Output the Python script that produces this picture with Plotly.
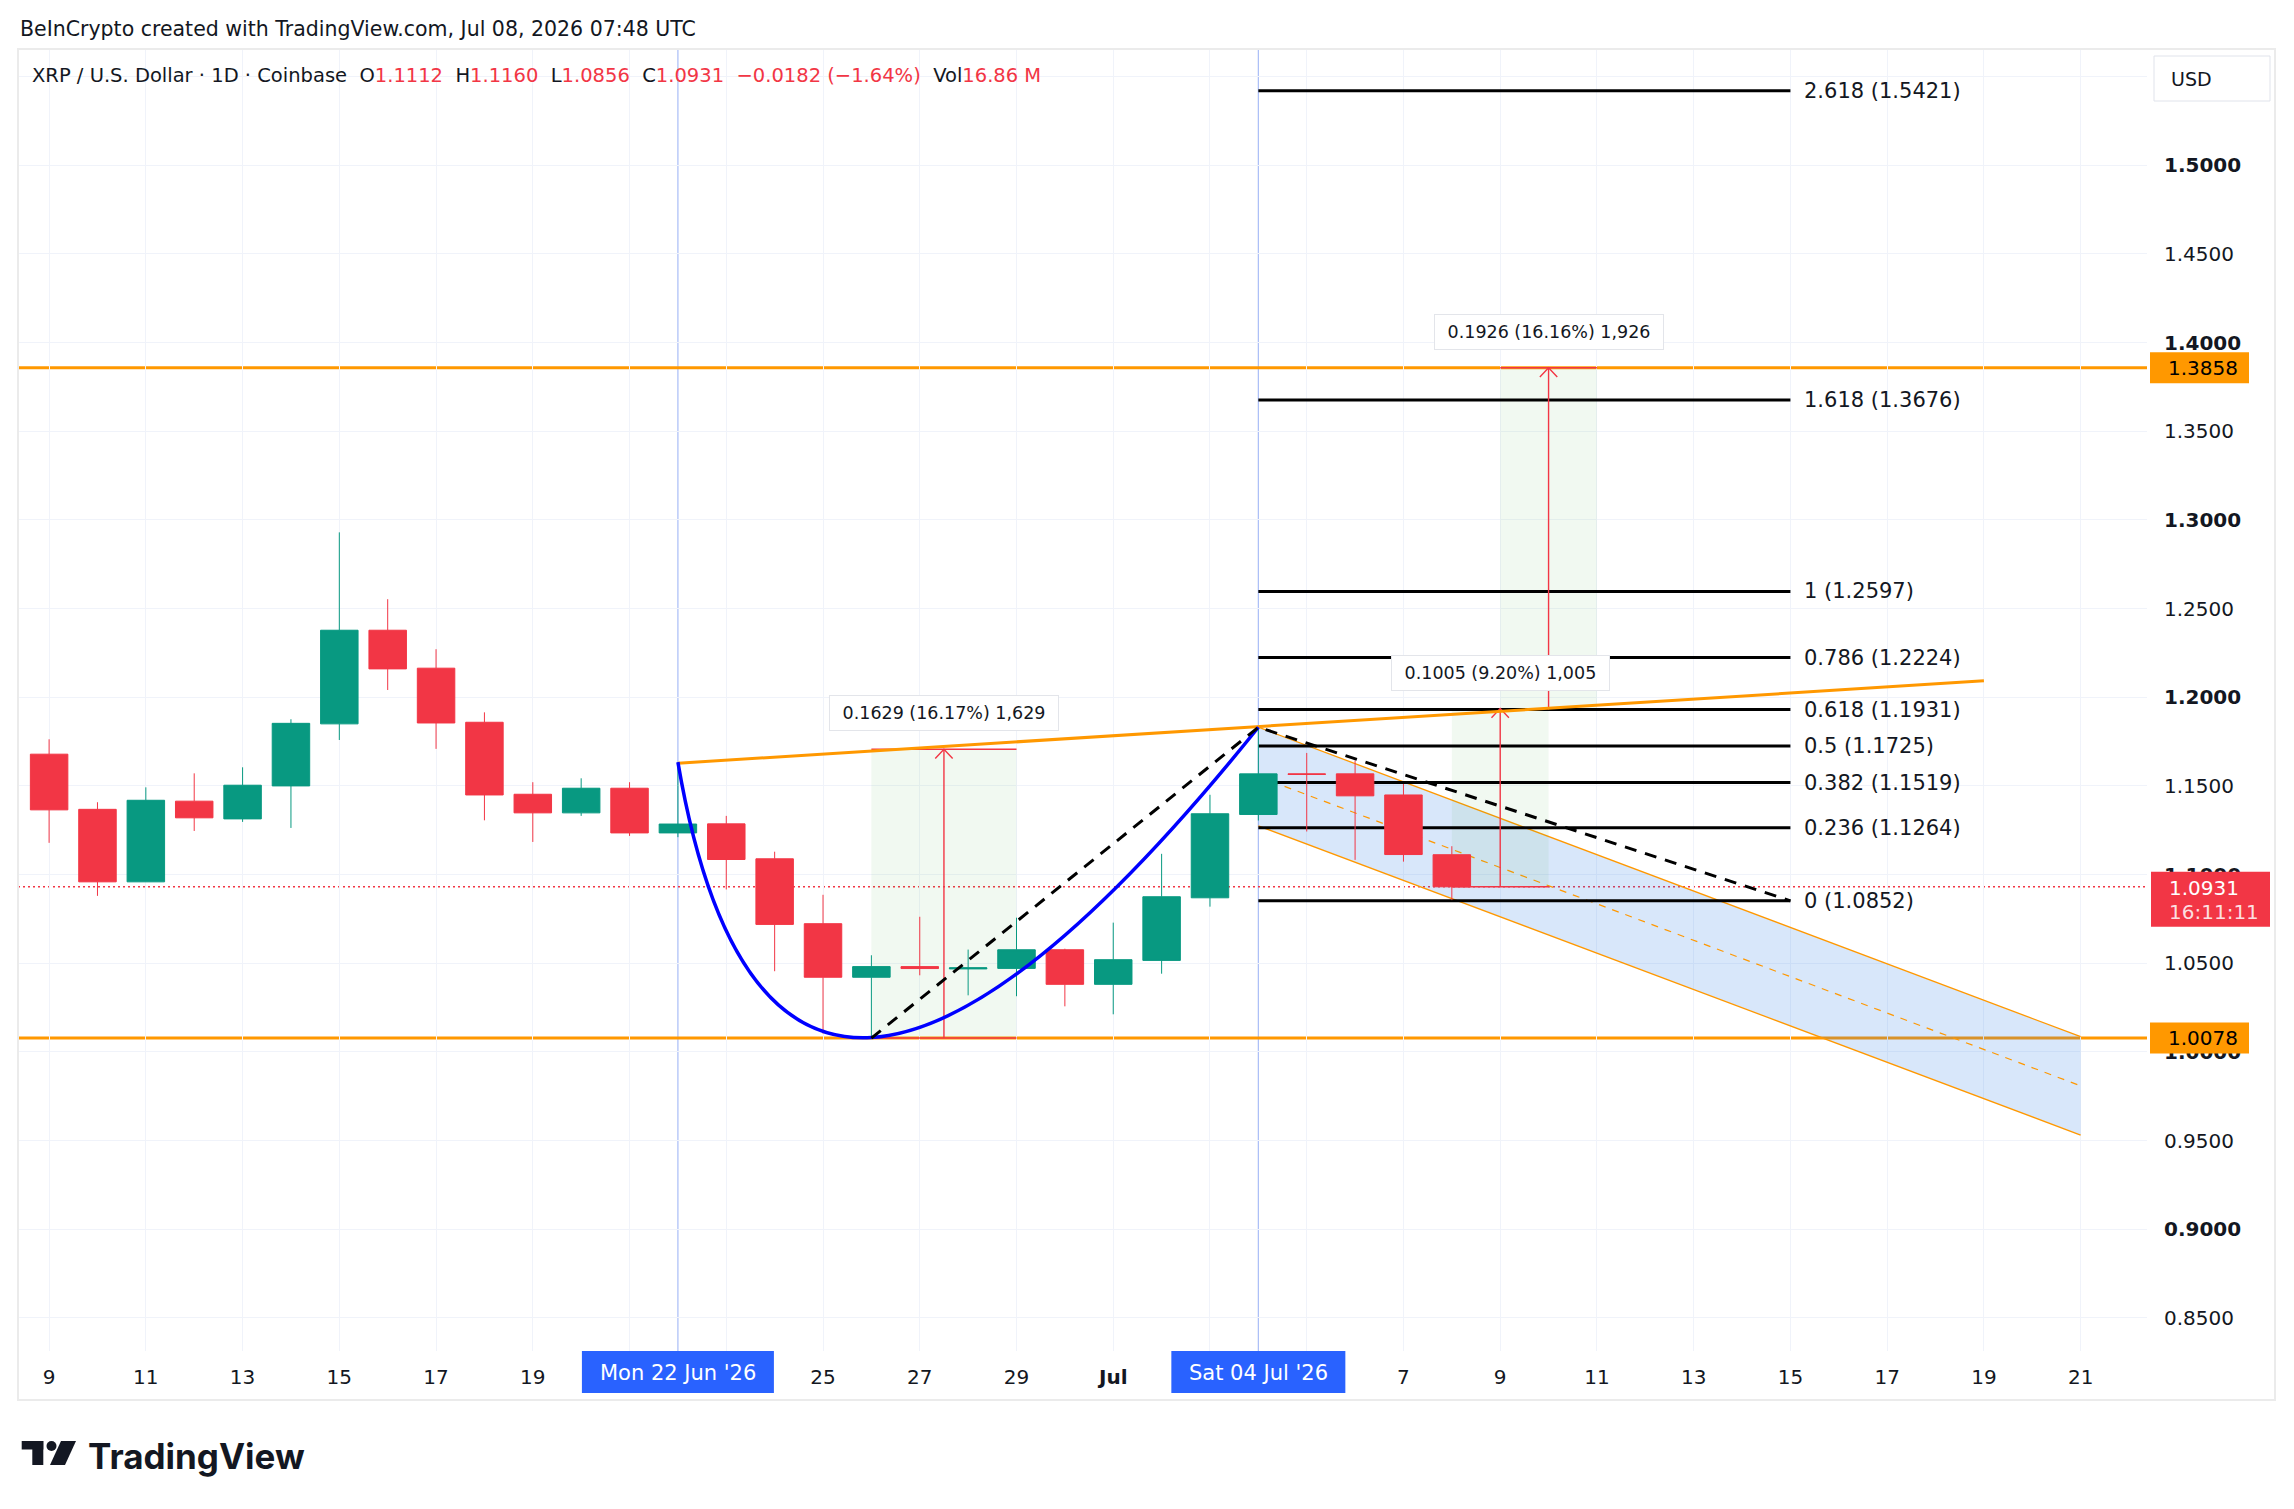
import plotly.graph_objects as go
import pandas as pd

# ---------------- data ----------------
dates = ["2026-06-09", "2026-06-10", "2026-06-11", "2026-06-12", "2026-06-13", "2026-06-14",
         "2026-06-15", "2026-06-16", "2026-06-17", "2026-06-18", "2026-06-19", "2026-06-20",
         "2026-06-21", "2026-06-22", "2026-06-23", "2026-06-24", "2026-06-25", "2026-06-26",
         "2026-06-27", "2026-06-28", "2026-06-29", "2026-06-30", "2026-07-01", "2026-07-02",
         "2026-07-03", "2026-07-04", "2026-07-05", "2026-07-06", "2026-07-07", "2026-07-08"]
opens = [1.1679, 1.1368, 1.0959, 1.1414, 1.1314, 1.1500, 1.1850, 1.2378, 1.2164, 1.1859,
         1.1453, 1.1348, 1.1487, 1.1235, 1.1286, 1.1089, 1.0723, 1.0421, 1.0481, 1.0468,
         1.0471, 1.0576, 1.0381, 1.0516, 1.0869, 1.1339, 1.1568, 1.1568, 1.1449, 1.1112]
highs = [1.1763, 1.1408, 1.1492, 1.1571, 1.1605, 1.1876, 1.2930, 1.2553, 1.2271, 1.1915,
         1.1521, 1.1543, 1.1521, 1.1632, 1.1331, 1.1129, 1.0886, 1.0545, 1.0762, 1.0577,
         1.0757, 1.0582, 1.0729, 1.1117, 1.1450, 1.1831, 1.1686, 1.1643, 1.1511, 1.1160]
lows = [1.1179, 1.0880, 1.0959, 1.1246, 1.1297, 1.1263, 1.1759, 1.2041, 1.1709, 1.1306,
        1.1184, 1.1331, 1.1218, 1.1211, 1.0916, 1.0455, 1.0103, 1.0078, 1.0432, 1.0319,
        1.0314, 1.0257, 1.0212, 1.0441, 1.0819, 1.1305, 1.1243, 1.1083, 1.1073, 1.0856]
closes = [1.1365, 1.0959, 1.1419, 1.1320, 1.1504, 1.1853, 1.2378, 1.2160, 1.1855, 1.1449,
          1.1348, 1.1487, 1.1235, 1.1285, 1.1085, 1.0719, 1.0421, 1.0481, 1.0470, 1.0474,
          1.0576, 1.0381, 1.0520, 1.0875, 1.1343, 1.1568, 1.1565, 1.1444, 1.1113, 1.0931]

x_tick_dates = ["2026-06-09", "2026-06-11", "2026-06-13", "2026-06-15", "2026-06-17", "2026-06-19",
                "2026-06-21", "2026-06-23", "2026-06-25", "2026-06-27", "2026-06-29", "2026-07-01",
                "2026-07-03", "2026-07-05", "2026-07-07", "2026-07-09", "2026-07-11", "2026-07-13",
                "2026-07-15", "2026-07-17", "2026-07-19", "2026-07-21"]
x_tick_labels = ["9", "11", "13", "15", "17", "19", "", "", "25", "27", "29", "<b>Jul</b>",
                 "", "", "7", "9", "11", "13", "15", "17", "19", "21"]
y_tick_vals = [0.85, 0.90, 0.95, 1.00, 1.05, 1.10, 1.15, 1.20, 1.25, 1.30, 1.35, 1.40, 1.45, 1.50, 1.55]
y_tick_labels = ["0.8500", "<b>0.9000</b>", "0.9500", "<b>1.0000</b>", "1.0500", "<b>1.1000</b>",
                 "1.1500", "<b>1.2000</b>", "1.2500", "<b>1.3000</b>", "1.3500", "<b>1.4000</b>",
                 "1.4500", "<b>1.5000</b>", ""]

# horizontal support / resistance
level_prices = [1.3858, 1.0078]
level_labels = ["1.3858", "1.0078"]

# fibonacci retracement (Jul 4 -> Jul 15)
fib_dates = ["2026-07-04", "2026-07-15"]
fib_ratios = ["0", "0.236", "0.382", "0.5", "0.618", "0.786", "1", "1.618", "2.618"]
fib_prices = [1.0852, 1.1264, 1.1519, 1.1725, 1.1931, 1.2224, 1.2597, 1.3676, 1.5421]

# rising trend line
trend_dates = ["2026-06-22", "2026-07-19"]
trend_prices = [1.1628, 1.2093]

# cup curve (start, control, end)
cup_dates = ["2026-06-22", "2026-06-24", "2026-07-04"]
cup_prices = [1.1634, 0.843, 1.1831]

# dashed swing path
swing_dates = ["2026-06-26", "2026-07-04", "2026-07-15"]
swing_prices = [1.0078, 1.1831, 1.0852]

# descending channel
chan_dates = ["2026-07-04", "2026-07-21"]
chan_upper = [1.1831, 1.0086]
chan_lower = [1.1275, 0.9531]

# price range measurements
meas_start = ["2026-06-26", "2026-07-08", "2026-07-09"]
meas_end = ["2026-06-29", "2026-07-10", "2026-07-11"]
meas_arrow = ["2026-06-27 12:00", "2026-07-09", "2026-07-10"]
meas_low = [1.0078, 1.0931, 1.1931]
meas_high = [1.1707, 1.1936, 1.3858]
meas_labels = ["0.1629 (16.17%) 1,629", "0.1005 (9.20%) 1,005", "0.1926 (16.16%) 1,926"]

marker_dates = ["2026-06-22", "2026-07-04"]
marker_labels = ["Mon 22 Jun '26", "Sat 04 Jul '26"]

last_price = closes[-1]
countdown = "16:11:11"

# ---------------- helpers ----------------
W_PX, H_PX = 2294, 1509
L, R, T, B = 18, 2147, 49, 1351
base = pd.Timestamp(dates[0])


def dx(s):
    return (pd.Timestamp(s) - base) / pd.Timedelta(days=1)


def pxx(p):
    return (p - L) / (R - L)


def pxy(p):
    return (B - p) / (B - T)


FONT = "DejaVu Sans"
TXT = "#131722"
GREEN = "#089981"
RED = "#f23645"
ORANGE = "#ff9800"

xs = [dx(d) for d in dates]

fig = go.Figure()
fig.add_trace(go.Candlestick(
    x=xs, open=opens, high=highs, low=lows, close=closes,
    increasing=dict(line=dict(color=GREEN, width=1), fillcolor=GREEN),
    decreasing=dict(line=dict(color=RED, width=1), fillcolor=RED),
    whiskerwidth=0, showlegend=False, hoverinfo="skip"))

shapes = []
ann = []

# channel fill + lines
cx0, cx1 = dx(chan_dates[0]), dx(chan_dates[1])
shapes.append(dict(type="path", xref="x", yref="y", layer="between",
                   path=f"M {cx0},{chan_upper[0]} L {cx1},{chan_upper[1]} L {cx1},{chan_lower[1]} L {cx0},{chan_lower[0]} Z",
                   fillcolor="rgba(41,120,230,0.18)", line=dict(width=0)))
for ys in (chan_upper, chan_lower):
    shapes.append(dict(type="line", xref="x", yref="y", layer="between",
                       x0=cx0, y0=ys[0], x1=cx1, y1=ys[1], line=dict(color=ORANGE, width=1.3)))
shapes.append(dict(type="line", xref="x", yref="y", layer="between",
                   x0=cx0, y0=(chan_upper[0] + chan_lower[0]) / 2, x1=cx1, y1=(chan_upper[1] + chan_lower[1]) / 2,
                   line=dict(color=ORANGE, width=1.2, dash="7px,7px")))

# measurement boxes
for s, e, a, lo, hi, lab in zip(meas_start, meas_end, meas_arrow, meas_low, meas_high, meas_labels):
    x0, x1, ax = dx(s), dx(e), dx(a)
    shapes.append(dict(type="rect", xref="x", yref="y", layer="between", x0=x0, x1=x1, y0=lo, y1=hi,
                       fillcolor="rgba(76,175,80,0.08)", line=dict(width=0)))
    for yy in (lo, hi):
        shapes.append(dict(type="line", xref="x", yref="y", layer="between", x0=x0, x1=x1, y0=yy, y1=yy,
                           line=dict(color=RED, width=1.4)))
    shapes.append(dict(type="line", xref="x", yref="y", layer="above", x0=ax, x1=ax, y0=lo, y1=hi,
                       line=dict(color=RED, width=1.4)))
    shapes.append(dict(type="path", xref="x", yref="y", layer="above",
                       path=f"M {ax-0.18},{hi-0.0052} L {ax},{hi} L {ax+0.18},{hi-0.0052}",
                       line=dict(color=RED, width=1.4)))
    ann.append(dict(xref="x", yref="y", x=ax, y=hi, yanchor="bottom", yshift=18,
                    text="&nbsp;" + lab + "&nbsp;", showarrow=False,
                    font=dict(family=FONT, size=17.5, color=TXT),
                    bgcolor="white", borderpad=7, borderwidth=1, bordercolor="#e3e5ea"))

# fib lines
fx0, fx1 = dx(fib_dates[0]), dx(fib_dates[1])
for r_, p_ in zip(fib_ratios, fib_prices):
    shapes.append(dict(type="line", xref="x", yref="y", layer="between", x0=fx0, x1=fx1, y0=p_, y1=p_,
                       line=dict(color="#000000", width=3)))
    ann.append(dict(xref="x", yref="y", x=fx1, y=p_, xanchor="left", yanchor="middle", xshift=12,
                    text=f"{r_} ({p_:.4f})", showarrow=False, font=dict(family=FONT, size=21, color=TXT)))

# marker verticals
for d in marker_dates:
    shapes.append(dict(type="line", xref="x", yref="paper", layer="between", x0=dx(d), x1=dx(d), y0=0, y1=1,
                       line=dict(color="#a9bdf7", width=1.2)))

# horizontal levels
for p_ in level_prices:
    shapes.append(dict(type="line", xref="paper", yref="y", layer="between", x0=0, x1=1, y0=p_, y1=p_,
                       line=dict(color=ORANGE, width=3)))

# last price dotted
shapes.append(dict(type="line", xref="paper", yref="y", layer="between", x0=0, x1=1, y0=last_price, y1=last_price,
                   line=dict(color=RED, width=1.5, dash="2px,3px")))

# trend line
shapes.append(dict(type="line", xref="x", yref="y", layer="above",
                   x0=dx(trend_dates[0]), y0=trend_prices[0], x1=dx(trend_dates[1]), y1=trend_prices[1],
                   line=dict(color=ORANGE, width=3)))

# cup curve
cx = [dx(d) for d in cup_dates]
shapes.append(dict(type="path", xref="x", yref="y", layer="above",
                   path=f"M {cx[0]},{cup_prices[0]} Q {cx[1]},{cup_prices[1]} {cx[2]},{cup_prices[2]}",
                   line=dict(color="#0000ff", width=3.5)))

# dashed swing
sx = [dx(d) for d in swing_dates]
shapes.append(dict(type="path", xref="x", yref="y", layer="above",
                   path="M " + " L ".join(f"{a},{b}" for a, b in zip(sx, swing_prices)),
                   line=dict(color="#000000", width=3, dash="12px,9px")))

# price-axis labels
for p_, lab in zip(level_prices, level_labels):
    shapes.append(dict(type="rect", xref="paper", yref="y", layer="above", x0=pxx(2150), x1=pxx(2249),
                       ysizemode="pixel", yanchor=p_, y0=-15.5, y1=15.5, fillcolor=ORANGE, line=dict(width=0)))
    ann.append(dict(xref="paper", yref="y", x=pxx(2166), y=p_, xanchor="left", yanchor="middle",
                    text=lab, showarrow=False, font=dict(family=FONT, size=20, color="#000000")))
shapes.append(dict(type="rect", xref="paper", yref="y", layer="above", x0=pxx(2151), x1=pxx(2270),
                   ysizemode="pixel", yanchor=last_price, y0=-40, y1=15, fillcolor=RED, line=dict(width=0)))
ann.append(dict(xref="paper", yref="y", x=pxx(2167), y=last_price, xanchor="left", yanchor="middle", yshift=-1,
                text=f"{last_price:.4f}", showarrow=False, font=dict(family=FONT, size=20, color="white")))
ann.append(dict(xref="paper", yref="y", x=pxx(2167), y=last_price, xanchor="left", yanchor="middle", yshift=-25,
                text=countdown, showarrow=False, font=dict(family=FONT, size=20, color="rgba(255,255,255,0.85)")))

# USD box
shapes.append(dict(type="rect", xref="paper", yref="paper", layer="above", x0=pxx(2154), x1=pxx(2270),
                   y0=pxy(101), y1=pxy(56), fillcolor="white", line=dict(color="#e0e3eb", width=1)))
ann.append(dict(xref="paper", yref="paper", x=pxx(2169), y=pxy(79), xanchor="left", yanchor="middle",
                text="USD", showarrow=False, font=dict(family=FONT, size=19, color=TXT)))

# time-axis highlighted labels
for d, lab, hw in zip(marker_dates, marker_labels, [96, 87]):
    shapes.append(dict(type="rect", xref="x", yref="paper", layer="above", xsizemode="pixel", xanchor=dx(d),
                       x0=-hw, x1=hw, y0=pxy(1393), y1=pxy(1351), fillcolor="#2962ff", line=dict(width=0)))
    ann.append(dict(xref="x", yref="paper", x=dx(d), y=pxy(1373), xanchor="center", yanchor="middle",
                    text=lab, showarrow=False, font=dict(family=FONT, size=21, color="white")))

# frame
shapes.append(dict(type="rect", xref="paper", yref="paper", layer="above", x0=0, x1=pxx(2275),
                   y0=pxy(1400), y1=1, line=dict(color="#ebebeb", width=2)))

# header texts
ann.append(dict(xref="paper", yref="paper", x=pxx(18), y=pxy(29), xanchor="left", yanchor="middle",
                text="BeInCrypto created with TradingView.com, Jul 08, 2026 07:48 UTC", showarrow=False,
                font=dict(family=FONT, size=20.5, color=TXT)))


def red(s):
    return f"<span style='color:{RED}'>{s}</span>"


hdr = ("XRP / U.S. Dollar · 1D · Coinbase&nbsp;&nbsp;"
       f"O{red(f'{opens[-1]:.4f}')}&nbsp;&nbsp;H{red(f'{highs[-1]:.4f}')}&nbsp;&nbsp;"
       f"L{red(f'{lows[-1]:.4f}')}&nbsp;&nbsp;C{red(f'{closes[-1]:.4f}')}&nbsp;&nbsp;"
       f"{red('−0.0182 (−1.64%)')}&nbsp;&nbsp;Vol{red('16.86 M')}")
ann.append(dict(xref="paper", yref="paper", x=pxx(30), y=pxy(76), xanchor="left", yanchor="middle",
                text=hdr, showarrow=False, font=dict(family=FONT, size=19.5, color=TXT)))

# TradingView logo
logo = "#131722"
shapes.append(dict(type="rect", xref="paper", yref="paper", layer="above", x0=pxx(21.7), x1=pxx(43.3),
                   y0=pxy(1449.5), y1=pxy(1441), fillcolor=logo, line=dict(width=0)))
shapes.append(dict(type="rect", xref="paper", yref="paper", layer="above", x0=pxx(32.3), x1=pxx(43.3),
                   y0=pxy(1465), y1=pxy(1441), fillcolor=logo, line=dict(width=0)))
shapes.append(dict(type="circle", xref="paper", yref="paper", layer="above", x0=pxx(46.5), x1=pxx(56.5),
                   y0=pxy(1451), y1=pxy(1441), fillcolor=logo, line=dict(width=0)))
shapes.append(dict(type="path", xref="paper", yref="paper", layer="above",
                   path=f"M {pxx(61)},{pxy(1441)} L {pxx(76)},{pxy(1441)} L {pxx(65)},{pxy(1465)} L {pxx(50)},{pxy(1465)} Z",
                   fillcolor=logo, line=dict(width=0)))
ann.append(dict(xref="paper", yref="paper", x=pxx(86), y=pxy(1456), xanchor="left", yanchor="middle",
                text="<b>TradingView</b>", showarrow=False, font=dict(family="Inter", size=35, color=logo)))

fig.update_layout(
    width=W_PX, height=H_PX,
    margin=dict(l=L, r=W_PX - R, t=T, b=H_PX - B, pad=0, autoexpand=False),
    paper_bgcolor="white", plot_bgcolor="white",
    font=dict(family=FONT, color=TXT),
    showlegend=False, boxgap=0.225, boxgroupgap=0,
    shapes=shapes, annotations=ann,
    xaxis=dict(range=[-0.643, 43.372], tickvals=[dx(d) for d in x_tick_dates], ticktext=x_tick_labels,
               showgrid=True, gridcolor="#f0f3fa", gridwidth=1, zeroline=False, showline=False,
               ticks="", tickfont=dict(family=FONT, size=20, color=TXT), ticklabelstandoff=12,
               rangeslider=dict(visible=False), automargin=False, fixedrange=True),
    yaxis=dict(range=[0.83132, 1.56559], side="right", tickvals=y_tick_vals, ticktext=y_tick_labels,
               showgrid=True, gridcolor="#f0f3fa", gridwidth=1, zeroline=False, showline=False,
               ticks="", tickfont=dict(family=FONT, size=20, color=TXT), ticklabelstandoff=16,
               automargin=False, fixedrange=True),
)

fig.write_html("out.html")
